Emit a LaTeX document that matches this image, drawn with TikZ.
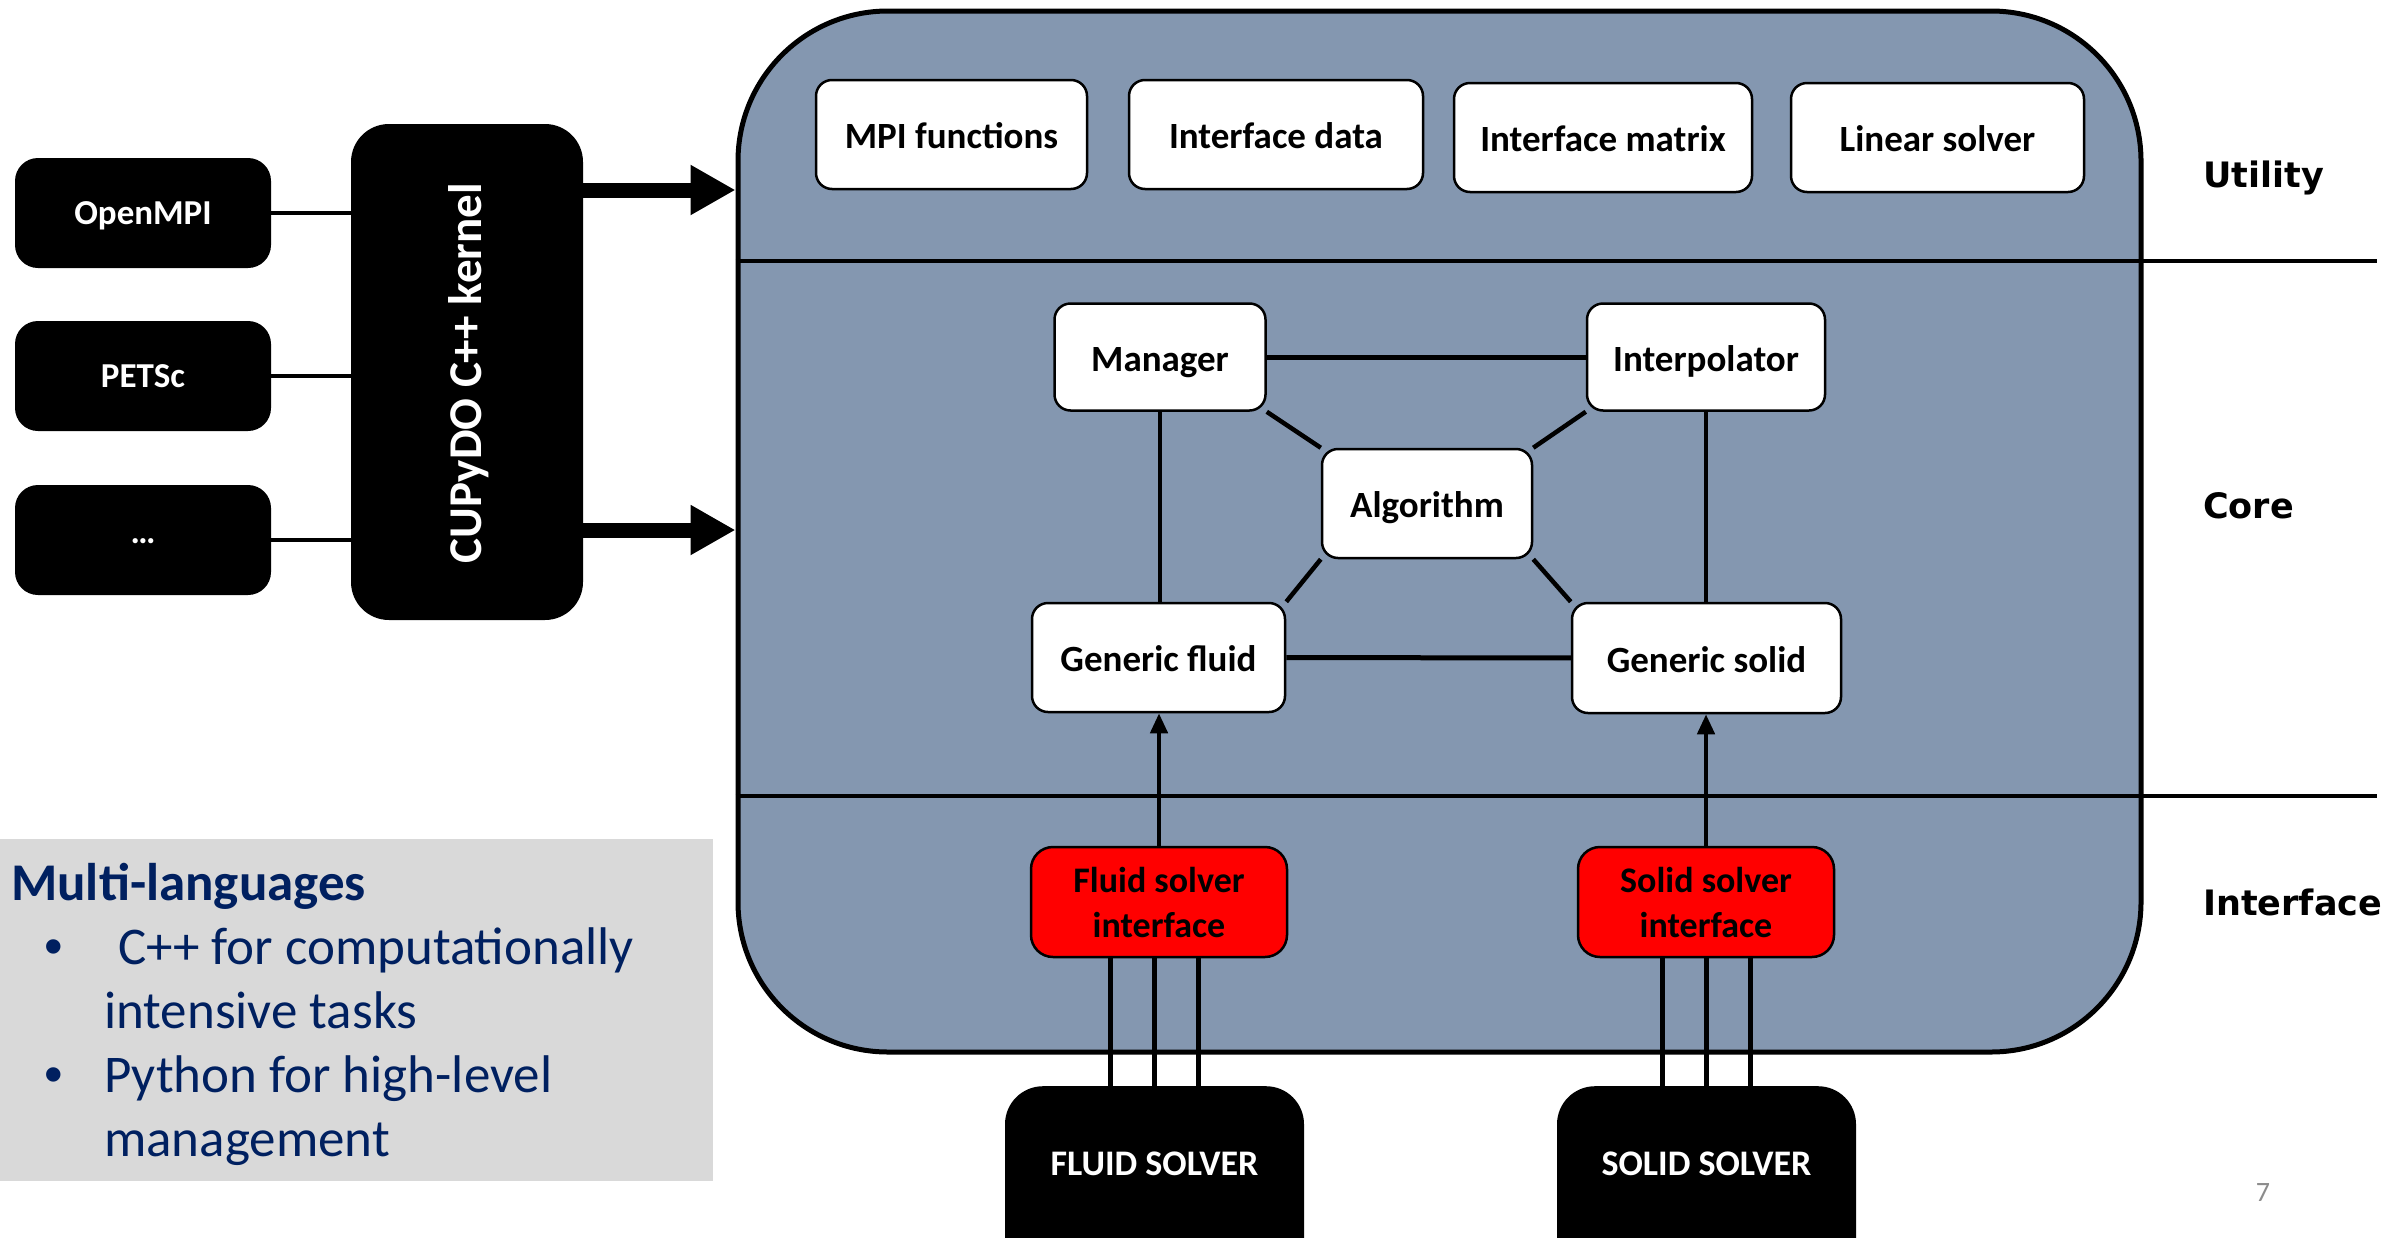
\documentclass[tikz,border=0pt]{standalone}
\usepackage{fontspec}
\setmainfont{Carlito}
\newfontfamily\labfont{DejaVu Sans}
\newfontfamily\bulfont{Liberation Sans}
\usetikzlibrary{arrows.meta,calc}
\definecolor{slate}{HTML}{8497B0}
\definecolor{navy}{HTML}{002060}
\definecolor{panel}{HTML}{D9D9D9}
\definecolor{pagenum}{HTML}{8C8C8C}
\pgfdeclarelayer{bg}
\pgfdeclarelayer{wires}
\pgfsetlayers{bg,wires,main}
\begin{document}
\begin{tikzpicture}[x=1pt,y=-1pt,
  blk/.style={fill=black, text=white, rounded corners=23, inner sep=0, minimum width=256, minimum height=110, text height=29, text depth=6.4, font=\bfseries\fontsize{35}{42}\selectfont},
  wbox/.style={draw=black, line width=2.5, fill=white, rounded corners=16, inner sep=0, minimum height=109, text height=33, text depth=5, font=\bfseries\fontsize{37}{44}\selectfont},
  rbox/.style={draw=black, line width=2.5, fill=red, rounded corners=22, inner sep=0, minimum width=256, minimum height=110, align=center, font=\bfseries\fontsize{36}{45}\selectfont},
  solver/.style={fill=black, text=white, rounded corners=38, inner sep=0, minimum width=299, anchor=north, text height=89, text depth=125, font=\bfseries\fontsize{36}{43}\selectfont},
  wire/.style={line width=4.5, draw=black},
  layerlab/.style={anchor=base west, inner sep=0, font=\labfont\bfseries\fontsize{35}{42}\selectfont},
  fat/.style={line width=15, -{Triangle[length=45pt,width=47pt]}},
  uparrow/.style={line width=4.5, -{Triangle[length=20pt,width=17pt]}},
  paneltext/.style={anchor=base west, text=navy, inner sep=0, font=\fontsize{53}{64}\selectfont}
]
\useasboundingbox (0,0) rectangle (2405,1237);
\begin{pgfonlayer}{bg}
  \fill[white] (0,0) rectangle (2405,1237);
  \node[draw=black, line width=5, fill=slate, rounded corners=150, minimum width=1403, minimum height=1041, inner sep=0] (frame) at (1439.5,531.5) {};
  \node[fill=panel, minimum width=713, minimum height=342, inner sep=0, anchor=north west] (panel) at (0,839) {};
\end{pgfonlayer}

% left side
\node[blk] (ompi) at (143,213) {OpenMPI};
\node[blk] (petsc) at (143,376) {PETSc};
\node[blk, text height=20, text depth=14] (etc) at (143,540) {…};
\node[blk, minimum width=232, minimum height=496, rounded corners=38] (kern) at (467,372) {};
\node[rotate=90, text=white, inner sep=0, font=\bfseries\fontsize{47}{56}\selectfont] (kernlab) at (469,373) {CUPyDO C++ kernel};

% utility
\node[wbox, minimum width=271] (mpi) at (951.5,134.5) {MPI functions};
\node[wbox, minimum width=294] (idata) at (1276,134.5) {Interface data};
\node[wbox, minimum width=298] (imat) at (1603,137.5) {Interface matrix};
\node[wbox, minimum width=293] (lsol) at (1937.5,137.5) {Linear solver};

% core
\node[wbox, minimum width=211, minimum height=107] (mgr) at (1160,357) {Manager};
\node[wbox, minimum width=238, minimum height=107] (interp) at (1706,357) {Interpolator};
\node[wbox, minimum width=210] (algo) at (1427,503.5) {Algorithm};
\node[wbox, minimum width=253] (gfluid) at (1158.5,657.5) {Generic fluid};
\node[wbox, minimum width=269, minimum height=110] (gsolid) at (1706.5,658) {Generic solid};

% interface
\node[rbox] (fsi) at (1159,902) {Fluid solver\\interface};
\node[rbox] (ssi) at (1706,902) {Solid solver\\interface};

% solvers
\node[solver] (fs) at (1154.5,1086) {FLUID SOLVER};
\node[solver] (ss) at (1706.5,1086) {SOLID SOLVER};

% layer labels
\node[layerlab] (lu) at (2203,187) {Utility};
\node[layerlab] (lc) at (2203,518) {Core};
\node[layerlab] (li) at (2203,915) {Interface};

% panel text
\node[paneltext, font=\bfseries\fontsize{53}{64}\selectfont] (mh) at (11,900) {Multi-languages};
\node[paneltext, font=\bulfont\fontsize{53}{64}\selectfont] (b1) at (44,964) {•};
\node[paneltext] (t1) at (118,964) {C++ for computationally};
\node[paneltext] (t2) at (104,1028) {intensive tasks};
\node[paneltext, font=\bulfont\fontsize{53}{64}\selectfont] (b2) at (44,1092) {•};
\node[paneltext] (t3) at (104,1092) {Python for high-level};
\node[paneltext] (t4) at (104,1156) {management};

\node[text=pagenum, inner sep=0, font=\fontsize{28}{33}\selectfont] (pg) at (2263,1192) {7};

\begin{pgfonlayer}{wires}
  \draw[wire] (ompi.east) -- (ompi.east -| kern.west);
  \draw[wire] (petsc.east) -- (petsc.east -| kern.west);
  \draw[wire] (etc.east) -- (etc.east -| kern.west);
  \coordinate (a1) at ($(kern.east)+(0,-182)$);
  \coordinate (a2) at ($(kern.east)+(0,158)$);
  \draw[fat] (a1) -- (a1 -| frame.west);
  \draw[fat] (a2) -- (a2 -| frame.west);
  \coordinate (dv1) at (2377,261);
  \coordinate (dv2) at (2377,796);
  \draw[wire] (frame.west |- dv1) -- (dv1);
  \draw[wire] (frame.west |- dv2) -- (dv2);
  \draw[wire, line width=5] (mgr) -- (interp);
  \draw[wire, line width=5] (gfluid) -- (gsolid);
  \draw[wire] (mgr.south) -- (mgr.south |- gfluid.north);
  \draw[wire] (interp.south) -- (interp.south |- gsolid.north);
  \draw[wire] (mgr.south east) -- (algo.north west);
  \draw[wire] (interp.south west) -- (algo.north east);
  \draw[wire] (gfluid.north east) -- (algo.south west);
  \draw[wire] (gsolid.north west) -- (algo.south east);
  \draw[uparrow] (fsi.north) -- (fsi.north |- gfluid.south);
  \draw[uparrow] (ssi.north) -- (ssi.north |- gsolid.south);
  \foreach \dx in {-44,0,44} {
    \draw[wire] ([xshift=\dx]fs.north) -- ([xshift=\dx]fs.north |- fsi.south);
    \draw[wire] ([xshift=\dx]ss.north) -- ([xshift=\dx]ss.north |- ssi.south);
  }
\end{pgfonlayer}
\end{tikzpicture}
\end{document}
